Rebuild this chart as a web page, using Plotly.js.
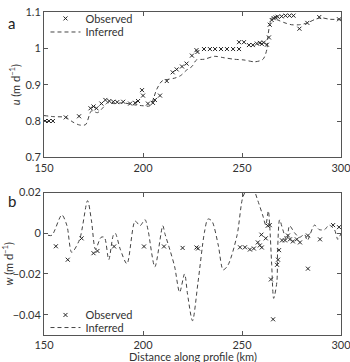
<!DOCTYPE html>
<html><head><meta charset="utf-8">
<script src="https://cdn.plot.ly/plotly-3.0.1.min.js"></script>
<style>html,body{margin:0;padding:0;background:#fff}#c{width:350px;height:362px}</style>
</head><body><div id="c"></div>
<script>
// Panel a: along-flow velocity u
const obsUKm = [150.5,152.5,154.5,161,167.7,173.5,175,176.5,179,181,183,185,187,190,193.5,196,197.5,199.5,200,202.5,205,206,208.6,212,215,217,219.7,222,224.7,227,227.5,230.8,233.8,236.4,239.4,242.4,245.5,248.5,248.5,251,253.5,255.5,257.5,259,260,261,262.6,263.6,264,265,266,267,268,270,272,274,276,279,283,289,299];
const obsU = [0.80,0.80,0.80,0.81,0.813,0.835,0.84,0.835,0.848,0.858,0.855,0.853,0.852,0.853,0.848,0.85,0.855,0.885,0.87,0.848,0.85,0.858,0.87,0.91,0.934,0.942,0.95,0.958,0.98,0.995,0.99,0.998,0.998,0.998,0.998,0.998,0.998,0.998,1.017,1.017,1.009,1.009,1.013,1.015,1.012,1.016,1.01,1.03,1.065,1.078,1.083,1.085,1.087,1.088,1.09,1.09,1.09,1.054,1.07,1.086,1.08];
const infUKm = [150,155,161,164.6,168,171,174,177,180,182,185,190,195,200,203.5,207,209.6,213,216,219,222,224.7,227,231,236,241,246,251,256.5,260.6,262.6,263,264,265,268,271.7,275,279,283,287,290,294.4,300];
const infU = [0.815,0.812,0.81,0.797,0.789,0.79,0.828,0.823,0.838,0.85,0.848,0.85,0.845,0.842,0.842,0.888,0.91,0.915,0.918,0.925,0.94,0.95,0.968,0.97,0.978,0.974,0.97,0.968,0.963,0.97,0.998,1.03,1.065,1.084,1.078,1.07,1.065,1.065,1.07,1.08,1.084,1.08,1.08];
// Panel b: vertical velocity w
const obsWKm = [156,162,169,175,177,185.4,200.5,210.6,220,227,227.8,249,251.5,254,256,258,259,260,259.8,262,263,264,264.6,265.7,267.7,268.2,268.7,270.2,271.7,273.2,274.2,275.7,277.7,279.3,283.3,283.3,289.4,296,299];
const obsW = [-0.0064,-0.013,-0.0025,-0.0098,-0.0087,-0.0065,-0.0065,-0.0065,-0.0072,-0.007,-0.0075,-0.0069,-0.0069,-0.008,-0.0075,-0.0045,-0.006,-0.007,-0.0007,-0.0025,0.0037,0.004,-0.0227,-0.0423,-0.0155,-0.013,-0.0083,-0.0035,-0.0035,-0.0011,-0.003,-0.004,-0.003,-0.0045,-0.0174,-0.0011,-0.003,0.004,0.003];
const infWKm = [152,154,159,161.6,164,168,172,174,176,178.8,180.5,182.7,185,186,188.5,191.9,196,198.5,201,202.5,206,210,211,213.6,216,218.5,221,222.5,225,227.8,231,232.8,234.8,238,240.5,243,247.5,250.5,253,255.5,258,260.6,262,263.3,264,265,266,267.6,268,269,270.6,272.6,274,276.5,279,281.6,283,286.6,289,291.7,294,296.7,298.4,300];
const infW = [-0.001,-0.001,0.009,0.0037,-0.0094,-0.003,0.016,0.006,-0.0078,-0.002,-0.002,-0.013,-0.001,0.0,-0.0078,-0.015,0.006,0.0037,0.0067,0.0018,-0.0165,0.0037,0.0,-0.0082,-0.0165,-0.029,-0.02,-0.03,-0.043,-0.024,0.0003,0.007,0.006,-0.0058,-0.018,-0.0155,-0.001,0.018,0.022,0.022,0.016,0.0084,0.004,0.011,0.0036,-0.0155,-0.032,-0.024,-0.008,0.0066,0.0018,-0.0035,0.0037,0.0003,-0.002,-0.0006,-0.0035,0.004,0.0018,0.0018,0.004,0.0018,-0.003,0];

const xTicks = [150,200,250,300];
const uTicks = [0.7,0.8,0.9,1,1.1];
const wTicks = [-0.04,-0.02,0,0.02];
const xTitle = 'Distance along profile (km)';

const mk = {symbol:'x-thin-open', size:4, color:'#222', line:{width:1,color:'#222'}};
const ln = {color:'#444', width:1, dash:'4px,3px', shape:'spline', smoothing:0.8};
const F = 'Lato, "Noto Sans", sans-serif';
const TF = {family:F,size:11,color:'#333'};

const traces = [
  {x:obsUKm, y:obsU, mode:'markers', name:'Observed', marker:mk, xaxis:'x', yaxis:'y', legend:'legend'},
  {x:infUKm, y:infU, mode:'lines', name:'Inferred', line:ln, xaxis:'x', yaxis:'y', legend:'legend3'},
  {x:obsWKm, y:obsW, mode:'markers', name:'Observed', marker:mk, xaxis:'x2', yaxis:'y2', legend:'legend2'},
  {x:infWKm, y:infW, mode:'lines', name:'Inferred', line:ln, xaxis:'x2', yaxis:'y2', legend:'legend4'}
];

const ax = {showgrid:false, zeroline:false, showline:true, linecolor:'#555', linewidth:1, mirror:'ticks',
  ticks:'inside', ticklen:4, tickcolor:'#555', tickfont:TF, ticklabeloverflow:'allow'};

function leg(y){ return {x:0.005, y:y, xanchor:'left', yanchor:'top', bgcolor:'rgba(0,0,0,0)', font:TF, itemwidth:30, tracegroupgap:0}; }

const layout = {
  width:350, height:362, margin:{l:44,r:9,t:4,b:27},
  paper_bgcolor:'#fff', plot_bgcolor:'#fff', font:TF,
  showlegend:true,
  xaxis:Object.assign({}, ax, {domain:[0,1], range:[150,300], tickvals:xTicks, anchor:'y'}),
  yaxis:Object.assign({}, ax, {domain:[0.55,1], range:[0.7,1.1], tickvals:uTicks, ticktext:['0.7','0.8','0.9','1','1.1'], anchor:'x',
    title:{text:'<i>u</i> (m d<sup>−1</sup>)', font:TF, standoff:2}}),
  xaxis2:Object.assign({}, ax, {domain:[0,1], range:[150,300], tickvals:xTicks, anchor:'y2'}),
  yaxis2:Object.assign({}, ax, {domain:[0,0.441], range:[-0.05,0.02], tickvals:wTicks, ticktext:['−0.04','−0.02','0','0.02'], anchor:'x2',
    title:{text:'<i>w</i> (m d<sup>−1</sup>)', font:TF, standoff:3}}),
  legend:leg(1.025),
  legend3:leg(0.983),
  legend2:leg(0.107),
  legend4:leg(0.068),
  annotations:[
    {text:'a', xref:'paper', yref:'paper', x:-0.108, y:0.967, xanchor:'center', yanchor:'middle', showarrow:false, font:{family:F,size:15,color:'#222'}},
    {text:'b', xref:'paper', yref:'paper', x:-0.108, y:0.414, xanchor:'center', yanchor:'middle', showarrow:false, font:{family:F,size:15,color:'#222'}},
    {text:xTitle, xref:'paper', yref:'paper', x:0.5, y:-0.0665, xanchor:'center', yanchor:'middle', showarrow:false, font:TF}
  ]
};
Plotly.newPlot('c', traces, layout, {staticPlot:true, displayModeBar:false});
</script></body></html>
